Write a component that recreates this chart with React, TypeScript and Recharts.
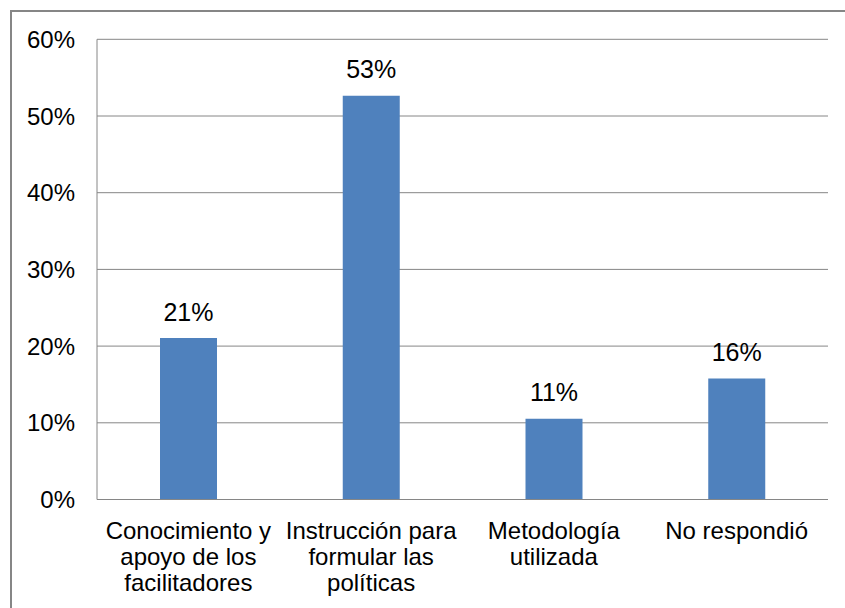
import React from 'react';
import { BarChart, Bar, XAxis, YAxis, CartesianGrid, LabelList } from 'recharts';

const categories = [
  'Conocimiento y\napoyo de los\nfacilitadores',
  'Instrucción para\nformular las\npolíticas',
  'Metodología\nutilizada',
  'No respondió',
];
const values = [21.05, 52.63, 10.53, 15.79];
const yTicks = [0, 10, 20, 30, 40, 50, 60];

const data = categories.map((c, i) => ({ name: c, value: values[i] }));

const FONT = '"Liberation Sans", Arial, sans-serif';

const XTick = (props: any) => {
  const { x, y, payload } = props;
  const lines = String(payload.value).split('\n');
  return (
    <text x={x} y={y + 39.5} textAnchor="middle" fontFamily={FONT} fontSize={24} fill="#000">
      {lines.map((l: string, i: number) => (
        <tspan key={i} x={x} dy={i === 0 ? 0 : 26}>
          {l}
        </tspan>
      ))}
    </text>
  );
};

export default function App() {
  return (
    <div style={{ position: 'absolute', left: 0, top: 0, width: 845, height: 608, overflow: 'hidden', background: '#fff' }}>
      <div
        style={{
          position: 'absolute',
          left: 10,
          top: 10,
          width: 900,
          height: 700,
          border: '2px solid #868686',
          boxSizing: 'border-box',
        }}
      />
      <div style={{ position: 'absolute', left: 0, top: 0 }}>
        <BarChart
          width={845}
          height={608}
          data={data}
          margin={{ top: 39.3, right: 17, left: 0, bottom: 48.5 }}
          barSize={57}
        >
          <CartesianGrid vertical={false} stroke="#868686" strokeWidth={1} />
          <XAxis
            dataKey="name"
            height={60}
            interval={0}
            tickLine={false}
            tickSize={0}
            tickMargin={0}
            axisLine={{ stroke: '#868686' }}
            tick={<XTick />}
          />
          <YAxis
            width={97}
            domain={[0, 60]}
            ticks={yTicks}
            interval={0}
            tickFormatter={(v: number) => `${v}%`}
            tickLine={false}
            tickSize={0}
            tickMargin={22}
            axisLine={{ stroke: '#868686' }}
            tick={{ fontFamily: FONT, fontSize: 24, fill: '#000' }}
          />
          <Bar dataKey="value" fill="#4F81BD" isAnimationActive={false}>
            <LabelList
              dataKey="value"
              position="top"
              offset={17.5}
              formatter={(v: number) => `${Math.round(v)}%`}
              style={{ fontFamily: FONT, fontSize: 25, fill: '#000' }}
            />
          </Bar>
        </BarChart>
      </div>
    </div>
  );
}
